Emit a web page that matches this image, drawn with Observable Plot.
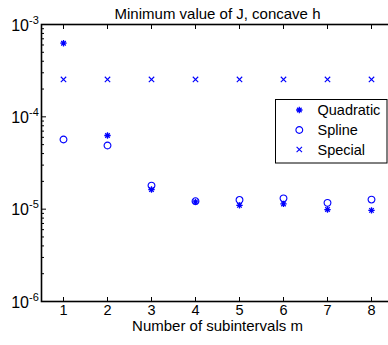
<!DOCTYPE html>
<html><head><meta charset="utf-8">
<script src="https://cdn.jsdelivr.net/npm/d3@7"></script>
<script src="https://cdn.jsdelivr.net/npm/@observablehq/plot@0.6"></script>
<style>
body{margin:0;background:#fff}
#chart{position:relative;width:388px;height:345px;overflow:hidden}
</style>
</head><body><div id="chart"></div>
<script>
const m = [1, 2, 3, 4, 5, 6, 7, 8];
const quadratic = [6.27e-4, 6.28e-5, 1.63e-5, 1.20e-5, 1.10e-5, 1.14e-5, 9.9e-6, 9.7e-6];
const spline    = [5.68e-5, 4.89e-5, 1.80e-5, 1.22e-5, 1.26e-5, 1.31e-5, 1.17e-5, 1.27e-5];
const special   = [2.54e-4, 2.54e-4, 2.54e-4, 2.54e-4, 2.54e-4, 2.54e-4, 2.54e-4, 2.54e-4];
const seriesNames = ["Quadratic", "Spline", "Special"];
const xTicks = [1, 2, 3, 4, 5, 6, 7, 8];
const yMajor = [1e-6, 1e-5, 1e-4, 1e-3];
const yExponents = ["-6", "-5", "-4", "-3"];
const yMinor = [1e-6, 1e-5, 1e-4].flatMap(d => [2,3,4,5,6,7,8,9].map(k => k * d));
const titleText = "Minimum value of J, concave h";
const xLabel = "Number of subintervals m";

const blue = "#0000ff";
const asterisk8 = {draw(c, size) {
  const r = Math.sqrt(size / Math.PI), d = r * Math.SQRT1_2;
  c.moveTo(-r, 0); c.lineTo(r, 0); c.moveTo(0, -r); c.lineTo(0, r);
  c.moveTo(-d, -d); c.lineTo(d, d); c.moveTo(-d, d); c.lineTo(d, -d);
}};
const timesSym = {draw(c, size) {
  const r = Math.sqrt(size / Math.PI);
  c.moveTo(-r, -r); c.lineTo(r, r); c.moveTo(-r, r); c.lineTo(r, -r);
}};
const circleSym = {draw(c, size) {
  const r = Math.sqrt(size / Math.PI);
  c.moveTo(r, 0); c.arc(0, 0, r, 0, 2 * Math.PI);
}};
const symbols = [asterisk8, circleSym, timesSym];
const radii = [3.2, 3.4, 2.7];
const widths = [1.3, 1.1, 1.1];

const rows = m.flatMap((x, i) => [
  {x, y: quadratic[i], s: 0},
  {x, y: spline[i], s: 1},
  {x, y: special[i], s: 2}
]);

const font = "'Liberation Sans', Arial, Helvetica, sans-serif";
const plot = Plot.plot({
  width: 388, height: 345,
  marginLeft: 41, marginRight: -5, marginTop: 24, marginBottom: 44,
  style: {fontFamily: font, fontSize: "14px", color: "black", background: "white"},
  x: {domain: [0.5, 8.5]},
  y: {type: "log", domain: [1e-6, 1e-3]},
  marks: [
    Plot.axisX(xTicks, {anchor: "bottom", tickSize: -4, tickFormat: () => "", label: null}),
    Plot.axisX(xTicks, {anchor: "top", tickSize: -4, tickFormat: () => "", label: null}),
    Plot.axisY(yMajor, {anchor: "left", tickSize: -5, tickFormat: () => "", label: null}),
    Plot.axisY(yMinor, {anchor: "left", tickSize: -3, tickFormat: () => "", label: null}),
    Plot.frame({stroke: "black", strokeWidth: 1.6}),
    Plot.text(xTicks, {x: d => d, frameAnchor: "bottom", dy: 13, text: d => String(d), fontSize: 14.5}),
    Plot.text(yMajor, {y: d => d, frameAnchor: "left", dx: -12.5, dy: 1, textAnchor: "end", text: () => "10", fontSize: 16}),
    Plot.text(yMajor, {y: d => d, frameAnchor: "left", dx: -12.5, dy: -4.5, textAnchor: "start", text: (d, i) => yExponents[i], fontSize: 11}),
    Plot.text([titleText], {frameAnchor: "top", dy: -15.7, text: d => d, fontSize: 15}),
    Plot.text([xLabel], {frameAnchor: "bottom", dy: 29.5, text: d => d, fontSize: 15}),
    ...[0, 1, 2].map(s => Plot.dot(rows.filter(d => d.s === s), {
      x: "x", y: "y", symbol: symbols[s], r: radii[s], stroke: blue, strokeWidth: widths[s], fill: "none"
    }))
  ]
});
document.getElementById("chart").appendChild(plot);

// legend
const svg = d3.select(plot);
const lg = svg.append("g").attr("font-family", font).attr("font-size", 14.5).attr("text-anchor", "start");
lg.append("rect").attr("x", 275.5).attr("y", 99.5).attr("width", 111.5).attr("height", 63.5)
  .attr("fill", "white").attr("stroke", "black").attr("stroke-width", 1);
const rowY = [110, 130, 149.5];
seriesNames.forEach((name, i) => {
  lg.append("path")
    .attr("transform", `translate(299.3,${rowY[i]})`)
    .attr("d", d3.symbol(symbols[i], Math.PI * radii[i] * radii[i])())
    .attr("fill", "none").attr("stroke", blue).attr("stroke-width", widths[i]);
  lg.append("text").attr("x", 317.5).attr("y", rowY[i]).attr("dy", "0.35em")
    .attr("text-anchor", "start").text(name);
});
</script>
</body></html>
